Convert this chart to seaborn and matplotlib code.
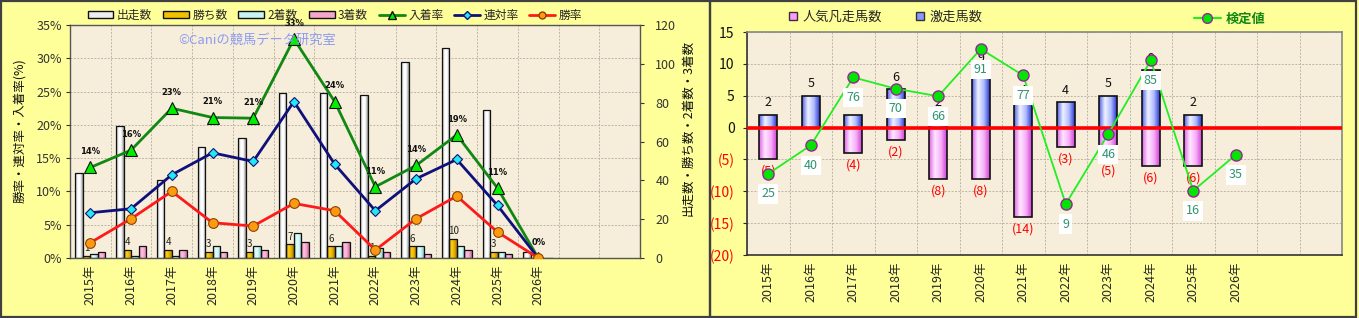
import numpy as np
import pandas as pd
import matplotlib
matplotlib.use("Agg")
import matplotlib.pyplot as plt
import seaborn as sns
from matplotlib.colors import LinearSegmentedColormap
from matplotlib.patches import Rectangle, Patch
from matplotlib.lines import Line2D

# ---------------- data ----------------
years = ['2015年', '2016年', '2017年', '2018年', '2019年', '2020年',
         '2021年', '2022年', '2023年', '2024年', '2025年', '2026年']
runs = [44, 68, 40, 57, 62, 85, 85, 84, 101, 108, 76, 3]
wins = [1, 4, 4, 3, 3, 7, 6, 1, 6, 10, 3, 0]
seconds = [2, 1, 1, 6, 6, 13, 6, 5, 6, 6, 3, 0]
thirds = [3, 6, 4, 3, 4, 8, 8, 3, 2, 4, 2, 0]
place_rate = [13.6, 16.2, 22.5, 21.1, 21.0, 32.9, 23.5, 10.7, 13.9, 18.5, 10.5, 0.0]
quinella_rate = [6.8, 7.4, 12.5, 15.8, 14.5, 23.5, 14.1, 7.1, 11.9, 14.8, 7.9, 0.0]
win_rate = [2.3, 5.9, 10.0, 5.3, 4.8, 8.2, 7.1, 1.2, 5.9, 9.3, 3.9, 0.0]
place_labels = ['14%', '16%', '23%', '21%', '21%', '33%', '24%', '11%', '14%', '19%', '11%', '0%']
win_labels = ['1', '4', '4', '3', '3', '7', '6', '1', '6', '10', '3', '']

hot_runs = [2, 5, 2, 6, 2, 9, 4, 4, 5, 9, 2, 0]
flop_runs = [-5, 0, -4, -2, -8, -8, -14, -3, -5, -6, -6, 0]
test_values = [25, 40, 76, 70, 66, 91, 77, 9, 46, 85, 16, 35]

count_series = ['出走数', '勝ち数', '2着数', '3着数']

# ---------------- style ----------------
sns.set_style("white")
plt.rcParams['font.family'] = ['Noto Sans CJK JP', 'DejaVu Sans']
plt.rcParams['axes.unicode_minus'] = False

FIG_BG = '#FFFF99'
PLOT_BG = '#F6EDDA'
GRID_C = '#BDB5A6'

fig = plt.figure(figsize=(13.59, 3.18), dpi=100)
fig.patch.set_facecolor(FIG_BG)

# panel borders
fig.patches.append(Rectangle((0.001, 0.003), 0.5215, 0.994, transform=fig.transFigure,
                             fill=False, edgecolor='#404040', lw=1.6, zorder=0))
fig.patches.append(Rectangle((0.5225, 0.003), 0.4755, 0.994, transform=fig.transFigure,
                             fill=False, edgecolor='#404040', lw=1.6, zorder=0))


def gradient_bars(ax, patches, colors):
    cmap = LinearSegmentedColormap.from_list('g', colors)
    grad = np.linspace(0, 1, 64).reshape(1, -1)
    for p in patches:
        h = p.get_height()
        if h == 0:
            continue
        x0, y0, w = p.get_x(), p.get_y(), p.get_width()
        im = ax.imshow(grad, cmap=cmap, extent=(x0, x0 + w, y0, y0 + h),
                       aspect='auto', zorder=p.get_zorder() - 0.01,
                       interpolation='bicubic')
        im.set_clip_path(p)
        p.set_facecolor('none')


# =============== LEFT CHART ===============
axL = fig.add_axes([70 / 1359, 60 / 318, 570 / 1359, 233 / 318])
axL.set_facecolor(PLOT_BG)

df_counts = pd.DataFrame({
    'year': years * 4,
    'series': sum([[s] * len(years) for s in count_series], []),
    'value': runs + wins + seconds + thirds,
})
palette = {'出走数': '#EEEEEE', '勝ち数': '#F2C200', '2着数': '#C8F4F4', '3着数': '#F4A6CC'}
sns.barplot(data=df_counts, x='year', y='value', hue='series', hue_order=count_series,
            order=years, palette=palette, width=0.73, edgecolor='#111111', linewidth=0.9,
            saturation=1, legend=False, ax=axL, zorder=2)

grad_colors = [
    ['#9A9A9A', '#FFFFFF', '#FFFFFF', '#8A8A8A'],
    ['#C89400', '#FFD21A', '#E8B000', '#A87A00'],
    ['#88CFCF', '#E6FFFF', '#CFF7F7', '#80C0C0'],
    ['#D870A8', '#FFC4E2', '#F8A8D0', '#C86098'],
]
for cont, cols in zip(axL.containers, grad_colors):
    gradient_bars(axL, list(cont.patches), cols)

axL.set_xlim(-0.5, 13.5)
axL.set_ylim(0, 120)
axL.set_xlabel('')
axL.set_ylabel('')
for k in range(1, 7):
    axL.axhline(k * 120 / 7, color=GRID_C, lw=0.7, ls=(0, (2, 1.5)), zorder=0.5)
for k in range(14):
    axL.axvline(k - 0.5, color=GRID_C, lw=0.7, ls=(0, (2, 1.5)), zorder=0.5)
for s in axL.spines.values():
    s.set_color('#555555')
    s.set_linewidth(1.0)

# win count labels
for i, lab in enumerate(win_labels):
    if lab:
        axL.annotate(lab, (i - 0.09, wins[i]), xytext=(0, 2), textcoords='offset points',
                     ha='center', va='bottom', fontsize=7, color='#222222', zorder=6)

# rate lines on twin axis
axR = axL.twinx()
# put the count axis on the right and the rate axis on the left
axL.yaxis.tick_right()
axL.yaxis.set_label_position('right')
axL.set_yticks(range(0, 121, 20))
axL.tick_params(axis='y', which='both', left=False, labelleft=False, right=True,
                labelright=True, labelsize=9, colors='#333333', length=3, pad=8)
axL.tick_params(axis='x', labelsize=9, rotation=90, length=0, pad=5)

axR.set_ylim(0, 35)
df_rates = pd.DataFrame({'year': years, 'place': place_rate,
                         'quin': quinella_rate, 'win': win_rate})
sns.pointplot(data=df_rates, x='year', y='place', order=years, color='#118811',
              markers='^', linestyles='-', ax=axR, markersize=8, linewidth=2,
              markerfacecolor='#00EE00', markeredgecolor='#111111', markeredgewidth=0.8)
sns.pointplot(data=df_rates, x='year', y='quin', order=years, color='#10107A',
              markers='D', linestyles='-', ax=axR, markersize=5, linewidth=2,
              markerfacecolor='#22E8F0', markeredgecolor='#10107A', markeredgewidth=0.8)
sns.pointplot(data=df_rates, x='year', y='win', order=years, color='#FF1A1A',
              markers='o', linestyles='-', ax=axR, markersize=7, linewidth=2,
              markerfacecolor='#FF9A10', markeredgecolor='#884400', markeredgewidth=0.8)
axR.set_xlim(-0.5, 13.5)
axR.set_ylim(0, 35)
axR.set_yticks(range(0, 36, 5))
axR.set_yticklabels([f'{v}%' for v in range(0, 36, 5)])
axR.tick_params(axis='y', which='both', left=True, labelleft=True, right=False,
                labelright=False, labelsize=9, colors='#333333', length=3, pad=3)
axR.set_ylabel('')
axR.set_xlabel('')
axR.tick_params(axis='x', length=0, labelbottom=False)
for s in axR.spines.values():
    s.set_visible(False)
for i, lab in enumerate(place_labels):
    axR.annotate(lab, (i, place_rate[i]), xytext=(0, 8), textcoords='offset points',
                 ha='center', va='bottom', fontsize=6, fontweight='bold',
                 family=['DejaVu Sans'], color='#111111', zorder=7)

fig.text(20 / 1359, 1 - 131 / 318, '勝率・連対率・入着率(%)', rotation=90,
         ha='center', va='center', fontsize=9, color='#111111')
fig.text(688 / 1359, 1 - 128 / 318, '出走数・勝ち数・2着数・3着数', rotation=90,
         ha='center', va='center', fontsize=9, color='#111111')
fig.text(257 / 1359, 1 - 40 / 318, '©Caniの競馬データ研究室', ha='center', va='center',
         fontsize=9.5, color='#8C9CF2', zorder=10)

handlesL = [Patch(facecolor=palette[s], edgecolor='#111111', lw=1) for s in count_series] + [
    Line2D([], [], color='#118811', lw=2, marker='^', markerfacecolor='#00EE00',
           markeredgecolor='#111111', markersize=6),
    Line2D([], [], color='#10107A', lw=2, marker='D', markerfacecolor='#22E8F0',
           markeredgecolor='#10107A', markersize=4),
    Line2D([], [], color='#FF1A1A', lw=2, marker='o', markerfacecolor='#FF9A10',
           markeredgecolor='#884400', markersize=5),
]
labelsL = count_series + ['入着率', '連対率', '勝率']
fig.legend(handlesL, labelsL, loc='center', bbox_to_anchor=(335 / 1359, 1 - 15 / 318),
           ncol=7, frameon=False, fontsize=8.5, handlelength=2.2, handleheight=0.6,
           columnspacing=0.9, handletextpad=0.3, borderpad=0)

# =============== RIGHT CHART ===============
ax2 = fig.add_axes([747 / 1359, 63 / 318, 595 / 1359, 223 / 318])
ax2.set_facecolor(PLOT_BG)
df_r = pd.DataFrame({'year': years, 'hot': hot_runs, 'flop': flop_runs, 'test': test_values})
sns.barplot(data=df_r, x='year', y='flop', order=years, color='#FF88FF', width=0.42,
            edgecolor='#111111', linewidth=1.2, saturation=1, ax=ax2, zorder=2)
n_flop = len(ax2.patches)
sns.barplot(data=df_r, x='year', y='hot', order=years, color='#7788FF', width=0.42,
            edgecolor='#111111', linewidth=1.2, saturation=1, ax=ax2, zorder=2)
pats = list(ax2.patches)
gradient_bars(ax2, pats[:n_flop], ['#E060E8', '#FFE8FF', '#F8B0F8', '#D040D8'])
gradient_bars(ax2, pats[n_flop:], ['#5060E8', '#F0F4FF', '#B0BCFF', '#2838D0'])

ax2.set_xlim(-0.5, 13.5)
ax2.set_ylim(-20, 15)
yt = list(range(-20, 16, 5))
ax2.set_yticks(yt)
ax2.set_yticklabels([str(v) if v >= 0 else f'({-v})' for v in yt])
for t, v in zip(ax2.get_yticklabels(), yt):
    t.set_color('#111111' if v >= 0 else '#FF0000')
ax2.tick_params(axis='y', labelsize=10, length=3, pad=6)
ax2.tick_params(axis='x', labelsize=9, rotation=90, length=0, pad=5)
ax2.set_xlabel('')
ax2.set_ylabel('')
for v in yt:
    ax2.axhline(v, color=GRID_C, lw=0.7, ls=(0, (2, 1.5)), zorder=0.5)
for k in range(14):
    ax2.axvline(k - 0.5, color=GRID_C, lw=0.7, ls=(0, (2, 1.5)), zorder=0.5)
ax2.axhline(0, color='#FF0000', lw=2.6, zorder=3)
for s in ax2.spines.values():
    s.set_color('#888888')
    s.set_linewidth(1.2)
ax2.spines['left'].set_color('#333333')
ax2.spines['bottom'].set_color('#333333')

for i in range(len(years)):
    if hot_runs[i] > 0:
        ax2.annotate(str(hot_runs[i]), (i, hot_runs[i]), xytext=(0, 4),
                     textcoords='offset points', ha='center', va='bottom',
                     fontsize=9, color='#111111', zorder=6)
    if flop_runs[i] < 0:
        ax2.annotate(f'({-flop_runs[i]})', (i, flop_runs[i]), xytext=(0, -4),
                     textcoords='offset points', ha='center', va='top',
                     fontsize=9, color='#FF0000', zorder=6)

ax3 = ax2.twinx()
sns.pointplot(data=df_r, x='year', y='test', order=years, color='#22EE22',
              markers='o', linestyles='-', ax=ax3, markersize=8, linewidth=1.3,
              markerfacecolor='#00E600', markeredgecolor='#992299', markeredgewidth=1.0)
ax3.set_xlim(-0.5, 13.5)
ax3.set_ylim(-18, 100)
ax3.set_yticks([])
ax3.set_ylabel('')
ax3.set_xlabel('')
ax3.tick_params(axis='x', length=0, labelbottom=False)
for s in ax3.spines.values():
    s.set_visible(False)
for i, v in enumerate(test_values):
    ax3.annotate(str(v), (i, v), xytext=(0, -14.5), textcoords='offset points',
                 ha='center', va='center', fontsize=9, color='#2E9470', zorder=8,
                 bbox=dict(boxstyle='square,pad=0.25', facecolor='white', edgecolor='none'))

handlesR = [
    Line2D([], [], ls='none', marker='s', markersize=6, markerfacecolor='#FF99FF',
           markeredgecolor='#333333'),
    Line2D([], [], ls='none', marker='s', markersize=6, markerfacecolor='#8899FF',
           markeredgecolor='#333333'),
]
fig.legend(handlesR, ['人気凡走馬数', '激走馬数'], loc='center',
           bbox_to_anchor=(885 / 1359, 1 - 17 / 318), ncol=2, frameon=False,
           fontsize=9.5, handlelength=0.8, handletextpad=0.3, columnspacing=2.5, borderpad=0)
legT = fig.legend([Line2D([], [], color='#22EE22', lw=1.5, marker='o', markersize=7,
                          markerfacecolor='#00E600', markeredgecolor='#992299')],
                  ['検定値'], loc='center', bbox_to_anchor=(1230 / 1359, 1 - 19 / 318),
                  frameon=False, fontsize=9.5, handlelength=2.0, handletextpad=0.4, borderpad=0)
for t in legT.get_texts():
    t.set_color('#118811')
    t.set_fontweight('bold')

fig.savefig('out.png', dpi=100, facecolor=FIG_BG)
